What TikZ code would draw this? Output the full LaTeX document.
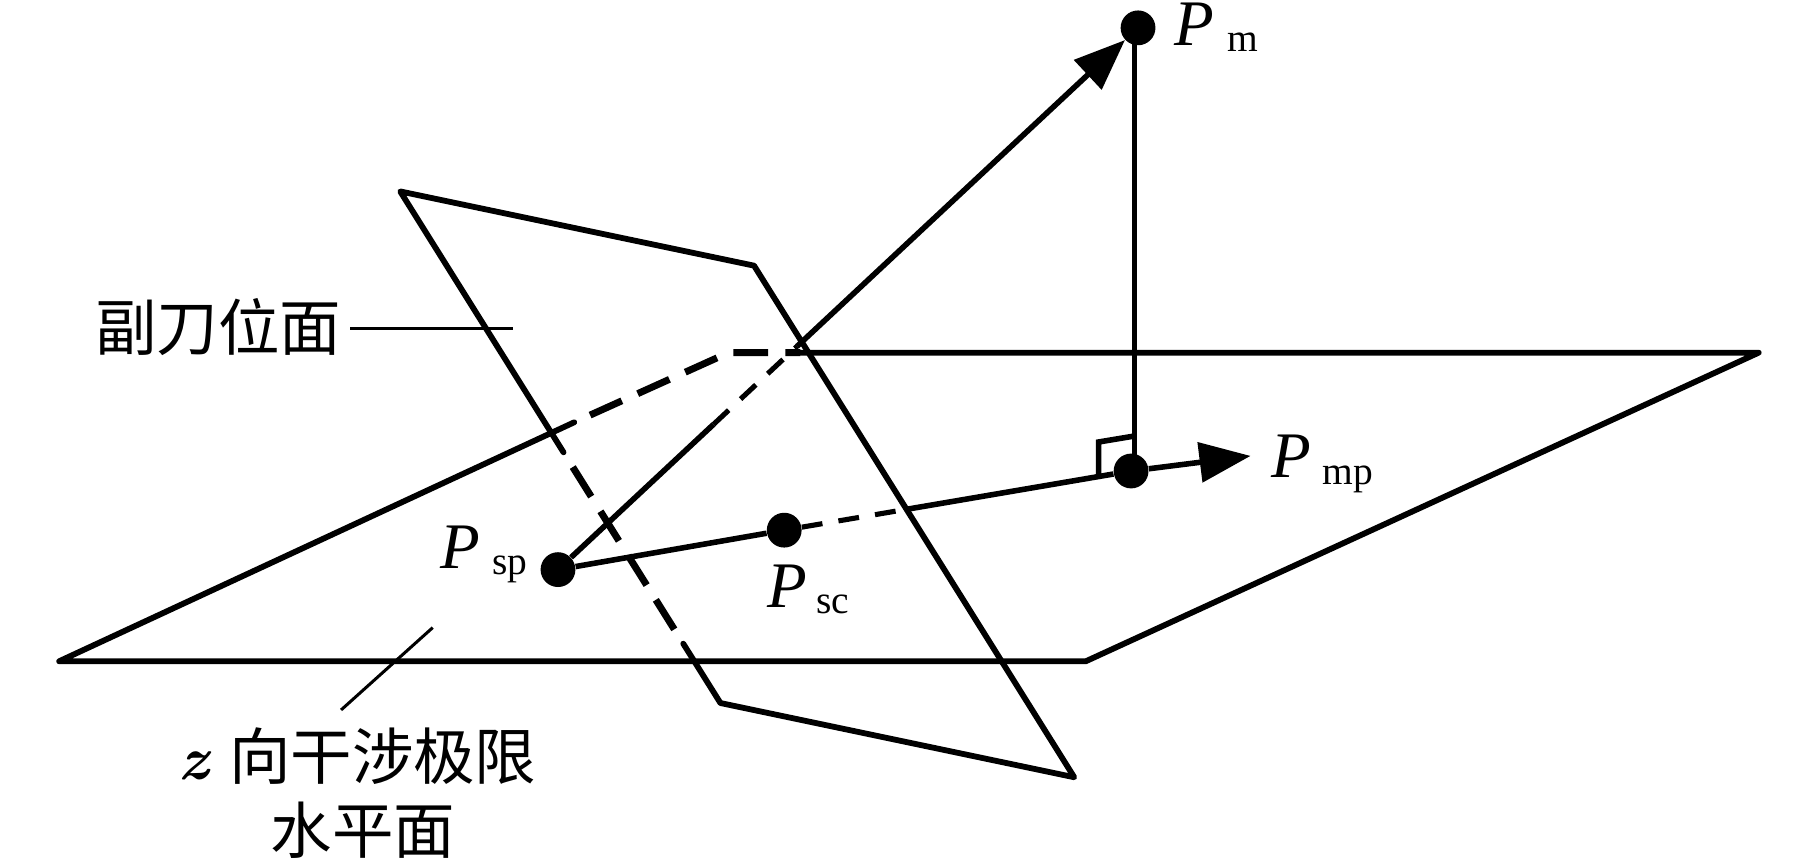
\documentclass[tikz,border=0pt]{standalone}
\usepackage{fontspec}
\usetikzlibrary{arrows.meta,calc}
\newfontfamily\cjk{Noto Sans CJK SC}
\newfontfamily\lserif{Liberation Serif}
\tikzset{
  x=0.5pt,y=-0.5pt,
  plane/.style={line width=2.5pt,line join=round,line cap=round,black},
  planedash/.style={line width=3pt,dash pattern=on 15pt off 7.5pt,dash phase=15pt,black},
  vec/.style={line width=2.4pt,black},
  vecdash/.style={line width=2.2pt,dash pattern=on 9pt off 7pt,black},
  lead/.style={line width=1.3pt,black},
  dot/.style={circle,fill=black,inner sep=0pt,minimum size=15pt},
  tip/.style={-{Triangle[length=22pt,width=17pt]}},
  sym/.style={anchor=base west,inner sep=0pt,font=\fontsize{28}{30}\selectfont\lserif\itshape},
  sub/.style={anchor=base west,inner sep=0pt,font=\fontsize{17}{19}\selectfont\lserif},
  cn/.style={inner sep=0pt,font=\fontsize{26.5}{28}\selectfont\cjk}
}
\begin{document}
\begin{tikzpicture}
\useasboundingbox (0,0) rectangle (1568,745);
% points
\node[dot] (psp) at (481,491) {};
\node[dot] (psc) at (676,457) {};
\node[dot] (pmp) at (975,406) {};
\node[dot] (pm)  at (981,24) {};
% horizontal plane
\coordinate (h1) at (51,570);
\coordinate (h2) at (936,570);
\coordinate (h3) at (1516,304);
\coordinate (h4) at (690,304);
\coordinate (h5) at (628,304);
\coordinate (h6) at (495,364);
\draw[plane] (h6) -- (h1) -- (h2) -- (h3) -- (h4);
\draw[planedash,line join=round] (h6) -- (h5) -- (h4);
% tool plane
\coordinate (v1) at (345,165);
\coordinate (v2) at (650,229);
\coordinate (v3) at (926,670);
\coordinate (v4) at (621,606);
\coordinate (v5) at ($(v1)!0.51!(v4)$);
\coordinate (v6) at ($(v1)!0.884!(v4)$);
\draw[plane] (v5) -- (v1) -- (v2) -- (v3) -- (v4) -- (v6);
\draw[planedash] (v5) -- (v6);
% vector to Pm
\coordinate (a) at ($(psp)!0.268!(pm)$);
\coordinate (b) at ($(psp)!0.412!(pm)$);
\draw[vec] (psp) -- (a);
\draw[vecdash] (a) -- (b);
\draw[vec,tip] (b) -- (pm);
% line through Psc and Pmp
\coordinate (c) at ($(psc)!0.353!(pmp)$);
\coordinate (e) at (1078,393);
\draw[vec] (psp) -- (psc);
\draw[vecdash] (psc) -- (c);
\draw[vec] (c) -- (pmp);
\draw[vec,tip] (pmp) -- (e);
\coordinate (vt) at (978,30);
\coordinate (vb) at (978,398);
\draw[vec] (vt) -- (vb);
% right angle mark
\coordinate (r1) at (947,412);
\coordinate (r2) at (947,381);
\coordinate (r3) at (977,376);
\draw[vec,line join=miter] (r1) -- (r2) -- (r3);
% leaders
\node[cn] (l1) at (188,282) {副刀位面};
\coordinate (l1e) at (442,283);
\coordinate (l1s) at (302,283);
\draw[lead] (l1s) -- (l1e);
\node[cn,anchor=base] (l2) at (308,672) {{\fontspec{Latin Modern Roman}\bfseries\itshape z}\hspace{3pt} 向干涉极限};
\node[cn,anchor=base] (l3) at (313,736) {水平面};
\coordinate (l2s) at (294,612);
\coordinate (l2e) at (373,541);
\draw[lead] (l2s) -- (l2e);
% point labels
\node[sym] (tsp) at (379,490) {P};
\node[sub] (ssp) at (424,495) {sp};
\node[sym] (tsc) at (661,524) {P};
\node[sub] (ssc) at (703,529) {sc};
\node[sym] (tm) at (1012,39) {P};
\node[sub] (sm) at (1058,44) {m};
\node[sym] (tmp) at (1096,412) {P};
\node[sub] (smp) at (1140,418) {mp};
\end{tikzpicture}
\end{document}
